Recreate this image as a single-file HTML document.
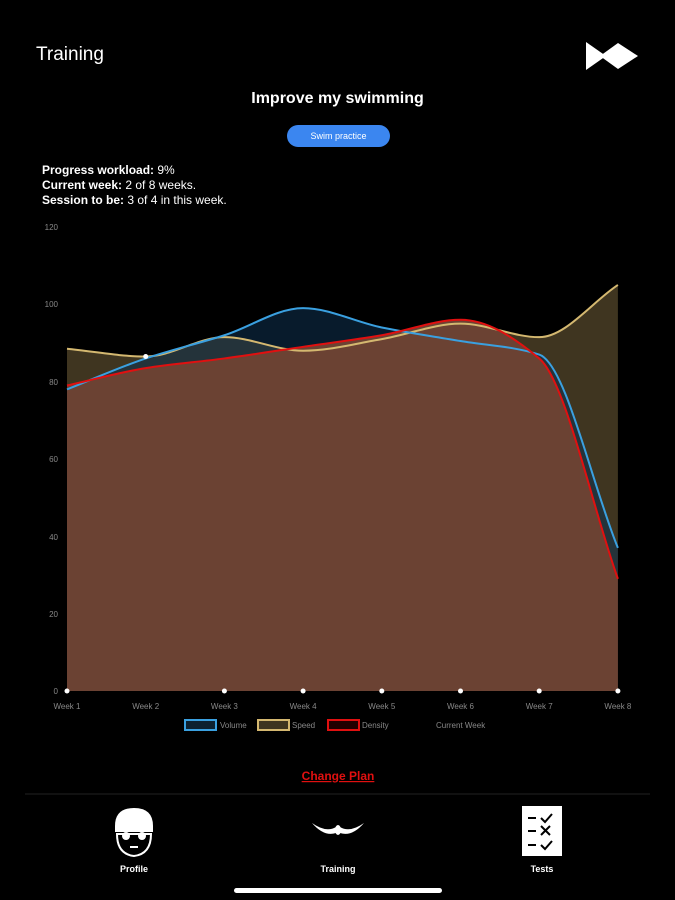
<!DOCTYPE html>
<html><head><meta charset="utf-8"><style>
body{margin:0;background:#000;width:675px;height:900px;overflow:hidden;font-family:"Liberation Sans",sans-serif;color:#fff;position:relative}
.a{position:absolute}
</style></head><body>
<div class="a" style="left:36px;top:44px;font-size:19px">Training</div>
<svg class="a" style="left:584px;top:40px" width="56" height="32"><polygon points="2,2 22,16 2,30" fill="#fff"/><polygon points="16,16 34,3 54,16 34,29" fill="#fff"/></svg>
<div class="a" style="left:0;width:675px;top:90px;text-align:center;font-size:16px;font-weight:bold">Improve my swimming</div>
<div class="a" style="left:287px;top:125px;width:103px;height:22px;border-radius:11px;background:#3b86f0;font-size:9px;text-align:center;line-height:22px">Swim practice</div>
<div class="a" style="left:42px;top:163px;font-size:12px;line-height:15px"><b>Progress workload:</b> 9%<br><b>Current week:</b> 2 of 8 weeks.<br><b>Session to be:</b> 3 of 4 in this week.</div>
<svg class="a" style="left:0;top:0" width="675" height="900" id="ch">
<g font-size="8" fill="#888" text-anchor="end">
<text x="58" y="230">120</text><text x="58" y="307">100</text><text x="58" y="385">80</text><text x="58" y="462">60</text><text x="58" y="540">40</text><text x="58" y="617">20</text><text x="58" y="694">0</text></g>
<g font-size="8" fill="#888" text-anchor="middle" id="xl"></g>
<g id="series"></g>
<g font-size="8" fill="#888">
<rect x="185" y="720" width="31" height="10" fill="#0d2130" stroke="#3aa0e0" stroke-width="2"/><text x="220" y="728">Volume</text>
<rect x="258" y="720" width="31" height="10" fill="#3f3520" stroke="#d4b870" stroke-width="2"/><text x="292" y="728">Speed</text>
<rect x="328" y="720" width="31" height="10" fill="#200" stroke="#e01010" stroke-width="2"/><text x="362" y="728">Density</text>
<text x="436" y="728">Current Week</text></g>
<text x="338" y="780" font-size="12" fill="#e01010" text-anchor="middle" font-weight="bold" text-decoration="underline">Change Plan</text>
<line x1="25" y1="794" x2="650" y2="794" stroke="#222"/>
<g fill="#fff">
<path d="M115,826 q0,-18 19,-18 q19,0 19,18 v6 h-38z"/><path d="M117,834 h34 q0,20 -17,22 q-17,-2 -17,-22z" fill="none" stroke="#fff" stroke-width="2"/>
<circle cx="126" cy="836" r="4"/><circle cx="142" cy="836" r="4"/><rect x="130" y="846" width="8" height="2"/>
<path d="M312,823 q14,10 24,4 l0,6 q-12,4 -24,-10z"/><path d="M364,823 q-14,10 -24,4 l0,6 q12,4 24,-10z"/><ellipse cx="338" cy="830" rx="3" ry="5"/>
<rect x="522" y="806" width="40" height="50"/>
<g stroke="#000" stroke-width="2" fill="none"><path d="M528,818h8M528,831h8M528,845h8M541,818l4,4l7,-8M541,826l9,9M550,826l-9,9M541,845l4,4l7,-8"/></g>
</g>
<g font-size="9" font-weight="bold" fill="#fff" text-anchor="middle"><text x="134" y="872">Profile</text><text x="338" y="872">Training</text><text x="542" y="872">Tests</text></g>
<rect x="234" y="888" width="208" height="5" rx="2.5" fill="#fff"/>
</svg>
<script>
const X=i=>67+i*78.7, Y=v=>691-v*3.867;
const vol=[78,86,92,99,94,90.5,87,37], spd=[88.5,86.5,91.5,88,91,95,91.5,105], den=[79,83.5,86,89,92,96,86,29];
function path(d){const n=d.length,h=78.7;const y=d.map(Y);const dl=[];for(let i=0;i<n-1;i++)dl.push((y[i+1]-y[i])/h);
const m=[];for(let i=0;i<n;i++){if(i==0)m.push(dl[0]);else if(i==n-1)m.push(dl[n-2]);else if(dl[i-1]*dl[i]<=0)m.push(0);else{m.push(2/(1/dl[i-1]+1/dl[i]));}}
let s=`M${X(0)},${y[0]}`;for(let i=0;i<n-1;i++){s+=` C${X(i)+h/3},${y[i]+m[i]*h/3} ${X(i+1)-h/3},${y[i+1]-m[i+1]*h/3} ${X(i+1)},${y[i+1]}`;}return s;}
const area=d=>path(d)+` L${X(7)},691 L${X(0)},691Z`;
let g='';
g+=`<path d="${area(spd)}" fill="#3f3520"/>`;
g+=`<path d="${area(vol)}" fill="rgba(15,50,80,0.55)"/>`;
g+=`<path d="${area(den)}" fill="#6b4233"/>`;
g+=`<path d="${path(spd)}" fill="none" stroke="#d4b870" stroke-width="2"/>`;
g+=`<path d="${path(vol)}" fill="none" stroke="#3aa0e0" stroke-width="2"/>`;
g+=`<path d="${path(den)}" fill="none" stroke="#e01010" stroke-width="2"/>`;
for(let i=0;i<8;i++){if(i!=1)g+=`<circle cx="${X(i)}" cy="691" r="2.5" fill="#fff"/>`;}
g+=`<circle cx="${X(1)}" cy="${Y(86.5)}" r="2.5" fill="#fff"/>`;
document.getElementById('series').innerHTML=g;
let xl='';for(let i=0;i<8;i++)xl+=`<text x="${X(i)}" y="709">Week ${i+1}</text>`;
document.getElementById('xl').innerHTML=xl;
</script>
</body></html>
